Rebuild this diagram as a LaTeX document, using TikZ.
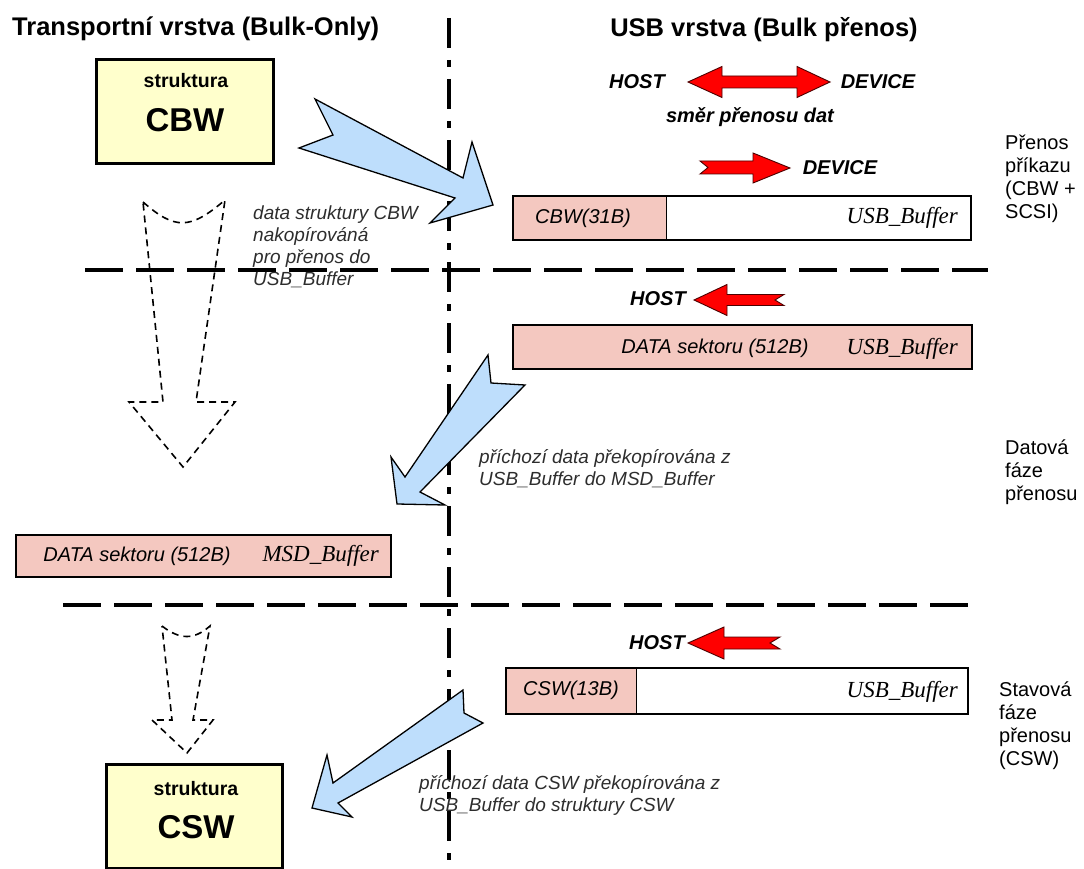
\documentclass[tikz,border=0pt]{standalone}
\usepackage{fontspec}
\setmainfont{Liberation Sans}
\newfontfamily\serifbuf{Liberation Serif}
\definecolor{structyellow}{RGB}{255,255,204}
\definecolor{bufpink}{RGB}{244,200,192}
\definecolor{copyblue}{RGB}{190,222,252}
\definecolor{notegray}{RGB}{45,45,45}

\begin{document}
\begin{tikzpicture}[x=1pt,y=-1pt,
    heading/.style={font=\bfseries\fontsize{25.5}{30}\selectfont,inner sep=0pt},
    structbox/.style={draw,line width=3pt,fill=structyellow,minimum width=177pt,minimum height=104pt},
    structsmall/.style={font=\bfseries\fontsize{19.5}{23}\selectfont,inner sep=0pt},
    structbig/.style={font=\bfseries\fontsize{33}{38}\selectfont,inner sep=0pt},
    bufbox/.style={draw,line width=2.5pt,minimum height=44pt,inner sep=0pt},
    fieldtext/.style={font=\itshape\fontsize{20}{24}\selectfont,inner sep=0pt},
    buftext/.style={font=\serifbuf\itshape\fontsize{23}{26}\selectfont,inner sep=0pt,anchor=base east},
    hostdev/.style={font=\bfseries\itshape\fontsize{20}{24}\selectfont,inner sep=0pt},
    note/.style={font=\itshape\fontsize{19}{22}\selectfont,text=notegray,align=left,anchor=north west,inner sep=0pt},
    phase/.style={font=\fontsize{20}{23}\selectfont,align=left,anchor=north west,inner sep=0pt},
    vdivider/.style={line width=3.2pt,dash pattern=on 30pt off 12pt on 7pt off 12pt},
    hdivider/.style={line width=3.2pt,dash pattern=on 38pt off 13pt},
    copyarrow/.style={draw,line width=1.3pt,fill=copyblue,line join=miter},
    dirarrow/.style={draw=black!70!red,line width=0.9pt,fill=red},
    ghostarrow/.style={line width=1.6pt,dash pattern=on 7pt off 5pt}
  ]
    \useasboundingbox (0,0) rectangle (1084,869);

    % layer and phase dividers
    \coordinate (VT) at (449,18);
    \coordinate (VB) at (449,869);
    \coordinate (H1L) at (85,270);
    \coordinate (H1R) at (988,270);
    \coordinate (H2L) at (63,605);
    \coordinate (H2R) at (980,605);
    \draw[vdivider] (VT) -- (VB);
    \draw[hdivider] (H1L) -- (H1R);
    \draw[hdivider] (H2L) -- (H2R);

    \node[heading,anchor=west] (Ttrans) at (12,29) {Transportní vrstva (Bulk-Only)};
    \node[heading] (Tusb) at (764,30) {USB vrstva (Bulk přenos)};

    % structures on the transport side
    \node[structbox] (CBW) at (184.5,112) {};
    \node[structsmall] (CBWs) at (186,81) {struktura};
    \node[structbig] (CBWn) at (185,120) {CBW};

    \node[structbox,minimum width=176pt] (CSW) at (194,816.5) {};
    \node[structsmall] (CSWs) at (196,789) {struktura};
    \node[structbig] (CSWn) at (196,827) {CSW};

    % direction legend
    \node[hostdev] (H0) at (637,82) {HOST};
    \node[hostdev] (D0) at (878,82) {DEVICE};
    \draw[dirarrow] (688,82) -- (722,66.5) -- (722,76) -- (797,76) -- (797,66.5) -- (830,82)
        -- (797,97.5) -- (797,88) -- (722,88) -- (722,97.5) -- cycle;
    \node[hostdev] (dirtxt) at (750,117) {směr přenosu dat};

    % command phase
    \draw[dirarrow] (700,161) -- (753,161) -- (753,153) -- (790,168) -- (753,183) -- (753,174)
        -- (700,174) -- (708,167.5) -- cycle;
    \node[hostdev] (D1) at (840,168) {DEVICE};
    \fill[bufpink] (513,196) rectangle (666,240);
    \draw[line width=1pt] (666,196) -- (666,240);
    \node[bufbox,minimum width=458pt] (UB1) at (742,218) {};
    \node[fieldtext] (CBWf) at (583,218) {CBW(31B)};
    \node[buftext] (UB1t) at (958,224) {USB\_Buffer};
    \node[phase] (P1) at (1005,135) {Přenos\\příkazu\\(CBW +\\SCSI)};

    % data phase
    \node[hostdev] (H2) at (658,299) {HOST};
    \draw[dirarrow] (694,300) -- (727,284.5) -- (727,294.5) -- (784,294.5) -- (775,300) -- (784,305.5)
        -- (727,305.5) -- (727,315.5) -- cycle;
    \node[bufbox,fill=bufpink,minimum width=459pt] (UB2) at (742.5,347) {};
    \node[fieldtext] (DATAu) at (715,348) {DATA sektoru (512B)};
    \node[buftext] (UB2t) at (958,354) {USB\_Buffer};
    \node[phase] (P2) at (1005,440) {Datová\\fáze\\přenosu};

    \node[bufbox,fill=bufpink,minimum width=375pt,minimum height=42pt] (MSD) at (203.5,556) {};
    \node[fieldtext] (DATAm) at (137,556) {DATA sektoru (512B)};
    \node[buftext] (MSDt) at (379,561) {MSD\_Buffer};

    % status phase
    \node[hostdev] (H3) at (657,643) {HOST};
    \draw[dirarrow] (688,643) -- (724,627) -- (724,637) -- (780,637) -- (770,643) -- (780,649)
        -- (724,649) -- (724,659) -- cycle;
    \fill[bufpink] (506,668) rectangle (636,714);
    \draw[line width=1pt] (636,668) -- (636,714);
    \node[bufbox,minimum width=462pt,minimum height=46pt] (UB3) at (737,691) {};
    \node[fieldtext] (CSWf) at (571,690) {CSW(13B)};
    \node[buftext] (UB3t) at (958,697) {USB\_Buffer};
    \node[phase] (P3) at (999,682) {Stavová\\fáze\\přenosu\\(CSW)};

    % copy arrows
    \draw[copyarrow] (315,99) -- (463,178) -- (472,142) -- (493,205) -- (430,223) -- (455,198)
        -- (299,148) -- (333,135) -- cycle;
    \draw[copyarrow] (488,355) -- (405,477) -- (391,457) -- (397,504) -- (445,505) -- (420,492)
        -- (525,385) -- (491,383) -- cycle;
    \draw[copyarrow] (463,690) -- (333,783) -- (327,755) -- (312,808) -- (352,817) -- (338,803)
        -- (483,723) -- (464,713) -- cycle;

    % order of the structures
    \draw[ghostarrow] (143,202) .. controls (175,230) and (190,230) .. (225,200) -- (196,402)
        -- (235,402) -- (183,467) -- (129,402) -- (163,402) -- cycle;
    \draw[ghostarrow] (162,626) .. controls (180,640) and (194,640) .. (210,626) -- (193,720)
        -- (213,720) -- (187,753) -- (152,720) -- (172,720) -- cycle;

    \node[note] (N1) at (253,206) {data struktury CBW\\nakopírováná\\pro přenos do\\USB\_Buffer};
    \node[note] (N2) at (479,449) {příchozí data překopírována z\\USB\_Buffer do MSD\_Buffer};
    \node[note] (N3) at (419,775) {příchozí data CSW překopírována z\\USB\_Buffer do struktury CSW};
\end{tikzpicture}
\end{document}
